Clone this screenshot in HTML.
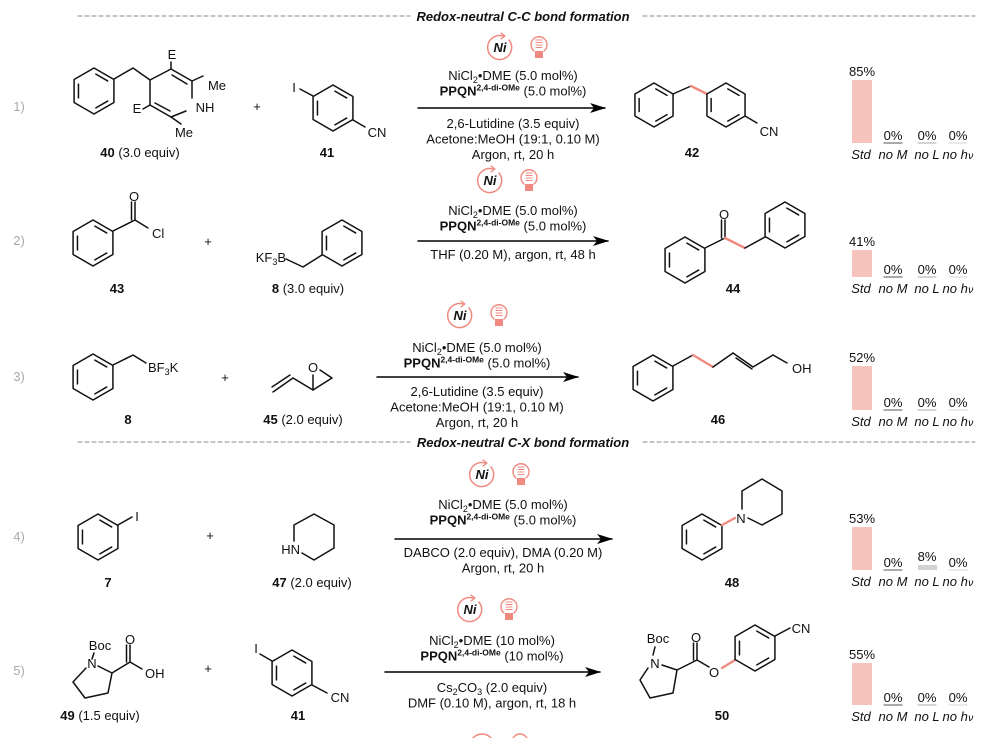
<!DOCTYPE html>
<html><head><meta charset="utf-8"><style>
html,body{margin:0;padding:0;background:#fff}
svg{display:block}
text{font-family:"Liberation Sans",sans-serif;font-size:13px;fill:#111}
</style></head><body>
<svg id="s" width="984" height="738" viewBox="0 0 984 738" xmlns="http://www.w3.org/2000/svg">
<defs><marker id="ah" markerWidth="16" markerHeight="10" refX="15" refY="5" orient="auto" markerUnits="userSpaceOnUse"><path d="M0,0 L16,5 L0,10 L4,5 Z" fill="#000"/></marker></defs>
<g id="g" stroke-linecap="round" stroke-linejoin="round"></g>
</svg>
<script>
var g=document.getElementById('g'),h='';
var PK='#f08a80';
function L(x1,y1,x2,y2,c,w){h+='<line x1="'+x1+'" y1="'+y1+'" x2="'+x2+'" y2="'+y2+'" stroke="'+(c||'#111')+'" stroke-width="'+(w||1.5)+'"/>';}
function P(pts,c,w){h+='<polyline points="'+pts+'" fill="none" stroke="'+(c||'#111')+'" stroke-width="'+(w||1.5)+'"/>';}
function T(x,y,s,o){o=o||{};h+='<text x="'+x+'" y="'+y+'" text-anchor="'+(o.a||'middle')+'"'+(o.b?' font-weight="bold"':'')+(o.i?' font-style="italic"':'')+(o.s?' font-size="'+o.s+'"':'')+(o.c?' style="fill:'+o.c+'"':'')+'>'+s+'</text>';}
function V(cx,cy,r,i){var a=(-90+60*i)*Math.PI/180;return [cx+r*Math.cos(a),cy+r*Math.sin(a)];}
function ring(cx,cy,r,dbl){r=r||23;var p=[];for(var i=0;i<=6;i++){p.push(V(cx,cy,r,i%6).join(','));}P(p.join(' '));
 (dbl||[0,2,4]).forEach(function(i){var a=V(cx,cy,r*0.78,i),b=V(cx,cy,r*0.78,(i+1)%6);L(a[0]+(b[0]-a[0])*0.12,a[1]+(b[1]-a[1])*0.12,a[0]+(b[0]-a[0])*0.88,a[1]+(b[1]-a[1])*0.88);});}
function dash(x1,x2,y){h+='<line x1="'+x1+'" y1="'+y+'" x2="'+x2+'" y2="'+y+'" stroke="#888" stroke-width="1" stroke-dasharray="4,3"/>';}
function arrow(x1,x2,y){h+='<line x1="'+x1+'" y1="'+y+'" x2="'+x2+'" y2="'+y+'" stroke="#000" stroke-width="1.5" marker-end="url(#ah)"/>';}
function icons(x,y){h+='<path d="M '+(x+9)+' '+(y-8)+' A 12 12 0 1 1 '+(x+3)+' '+(y-12)+'" fill="none" stroke="'+PK+'" stroke-width="1.5"/>';
 h+='<path d="M '+(x+1)+' '+(y-15)+' L '+(x+5)+' '+(y-12)+' L '+(x+1)+' '+(y-9)+'" fill="none" stroke="'+PK+'" stroke-width="1.3"/>';
 T(x,y+4,'Ni',{b:1,i:1,s:12});
 var bx=x+39,by=y-4;
 h+='<path d="M '+(bx-5)+' '+(by+7)+' A 8 8 0 1 1 '+(bx+5)+' '+(by+7)+'" fill="none" stroke="'+PK+'" stroke-width="1.4"/>';
 for(var k=0;k<4;k++)L(bx-3,by-4+k*2.5,bx+3,by-4+k*2.5,PK,1);
 h+='<rect x="'+(bx-4)+'" y="'+(by+7)+'" width="8" height="7" fill="'+PK+'"/>';}
function cond(cx,y1,lines){lines.forEach(function(l,i){T(cx,y1+i*15.5,l);});}
var PPQN='<tspan font-weight="bold">PPQN<tspan font-size="8.5" dy="-5">2,4-di-OMe</tspan></tspan><tspan dy="5"> (5.0 mol%)</tspan>';
var PPQN10='<tspan font-weight="bold">PPQN<tspan font-size="8.5" dy="-5">2,4-di-OMe</tspan></tspan><tspan dy="5"> (10 mol%)</tspan>';
var NI5='NiCl<tspan font-size="9" dy="3">2</tspan><tspan dy="-3">•DME (5.0 mol%)</tspan>';
function bars(base,pct,hgt,nol){h+='<rect x="852" y="'+(base-hgt)+'" width="20" height="'+hgt+'" fill="#f7c4bd"/>';T(862,base-hgt-4,pct+'%');
 [[893,'#777'],[927,'#bbb'],[958,'#ddd']].forEach(function(q,i){if(i==1&&nol){h+='<rect x="918" y="'+(base-5)+'" width="19" height="5" fill="#d3d3d3"/>';T(927,base-9,nol+'%');}else{L(q[0]-9,base,q[0]+9,base,q[1],1.2);T(q[0],base-3,'0%');}});
 T(861,base+16,'Std',{i:1});T(893,base+16,'no M',{i:1});T(927,base+16,'no L',{i:1});T(958,base+16,'no h<tspan font-family="DejaVu Sans" font-size="10">ν</tspan>',{i:1});}
function num(x,y,n){T(x,y,n,{c:'#aaa'});}

dash(78,410,16);T(523,21,'Redox-neutral C-C bond formation',{b:1,i:1});dash(643,975,16);
dash(78,410,442);T(523,447,'Redox-neutral C-X bond formation',{b:1,i:1});dash(643,975,442);

// Row 1
num(19,111,'1)');
ring(94,91,23);P('114,79 133,68 150,80');
P('171,69 192,81 192,98');P('186,111 171,117 150,105 150,80 171,69');
L(172,75,187,84);L(155,103,170,111);
L(171,69,171,62);T(172,59,'E');L(192,81,203,76);T(217,90,'Me');T(205,112,'NH');L(150,105,143,109);T(137,113,'E');L(171,117,181,124);T(184,137,'Me');
T(140,157,'<tspan font-weight="bold">40</tspan> (3.0 equiv)');
T(257,111,'+');
ring(333,108,23);L(313,96,300,89);T(294,92,'I');L(353,120,365,127);T(377,137,'CN');T(327,157,'41',{b:1});
icons(500,48);cond(513,80,[NI5,PPQN]);arrow(418,605,108);cond(513,128,['2,6-Lutidine (3.5 equiv)','Acetone:MeOH (19:1, 0.10 M)','Argon, rt, 20 h']);
ring(654,105,22);L(673,94,691,86);L(691,86,707,94,PK,2.4);ring(726,105,22);L(745,116,757,123);T(769,136,'CN');T(692,157,'42',{b:1});
bars(143,85,63);

// Row 2
num(19,245,'2)');
ring(93,243,23);L(113,231,135,220);L(135,220,135,202);L(131.5,220,131.5,202);T(134,201,'O');L(135,220,148,228);T(152,238,'Cl',{a:'start'});
T(117,293,'43',{b:1});T(208,246,'+');
T(286,262,'KF<tspan font-size="9" dy="3">3</tspan><tspan dy="-3">B</tspan>',{a:'end'});P('286,259 303,267 322,255');ring(342,243,23);
T(308,293,'<tspan font-weight="bold">8</tspan> (3.0 equiv)');
icons(490,181);cond(513,215,[NI5,PPQN]);arrow(418,608,241);T(513,259,'THF (0.20 M), argon, rt, 48 h');
ring(685,260,23);L(705,248,725,238);L(725,238,725,220);L(721.5,238,721.5,220);T(724,219,'O');L(725,238,745,248,PK,2.4);L(745,248,765,237);ring(785,225,23);
T(733,293,'44',{b:1});
bars(277,41,27);

// Row 3
num(19,381,'3)');
ring(93,377,23);P('113,365 133,355 146,363');T(148,372,'BF<tspan font-size="9" dy="3">3</tspan><tspan dy="-3">K</tspan>',{a:'start'});
T(128,424,'8',{b:1});T(225,382,'+');
L(273,392,293,378);L(272,387,290,375);L(293,378,313,390);P('313,390 313,375');P('320,370 332,378 313,390');T(313,372,'O');
T(303,424,'<tspan font-weight="bold">45</tspan> (2.0 equiv)');
icons(460,316);cond(477,352,[NI5,PPQN]);arrow(377,578,377);cond(477,396,['2,6-Lutidine (3.5 equiv)','Acetone:MeOH (19:1, 0.10 M)','Argon, rt, 20 h']);
ring(653,378,23);L(673,366,693,355);L(693,355,713,367,PK,2.4);L(713,367,733,353);L(733,353,753,367);L(736,358,752,369);L(753,367,773,355);L(773,355,787,363);T(792,373,'OH',{a:'start'});
T(718,424,'46',{b:1});
bars(410,52,44);

// Row 4
num(19,541,'4)');
ring(98,537,23);L(118,525,132,517);T(137,521,'I');T(108,587,'7',{b:1});T(210,540,'+');
P('294,541 294,525 314,514 334,525 334,548 314,560 302,553');T(300,554,'HN',{a:'end'});
T(312,587,'<tspan font-weight="bold">47</tspan> (2.0 equiv)');
icons(482,475);cond(503,509,[NI5,PPQN]);arrow(395,612,539);cond(503,557,['DABCO (2.0 equiv), DMA (0.20 M)','Argon, rt, 20 h']);
ring(702,537,23);L(722,525,735,518,PK,2.4);T(741,523,'N');P('742,509 742,491 762,479 782,491 782,514 762,525 748,518');
T(732,587,'48',{b:1});
bars(570,53,43,8);

// Row 5
num(19,675,'5)');
T(100,650,'Boc');L(94,653,92,659);T(92,668,'N');P('86,668 73,682 85,698 108,693 112,673 98,666');L(112,673,130,662);L(130,662,130,645);L(126.5,662,126.5,645);T(130,644,'O');L(130,662,142,669);T(145,678,'OH',{a:'start'});
T(100,720,'<tspan font-weight="bold">49</tspan> (1.5 equiv)');T(208,673,'+');
ring(292,673,23);L(272,661,260,654);T(256,653,'I');L(312,685,327,693);T(340,702,'CN');T(298,720,'41',{b:1});
icons(470,610);cond(492,645,['NiCl<tspan font-size="9" dy="3">2</tspan><tspan dy="-3">•DME (10 mol%)</tspan>',PPQN10]);arrow(385,600,672);cond(492,692,['Cs<tspan font-size="9" dy="3">2</tspan><tspan dy="-3">CO</tspan><tspan font-size="9" dy="3">3</tspan><tspan dy="-3"> (2.0 equiv)</tspan>','DMF (0.10 M), argon, rt, 18 h']);
T(658,643,'Boc');L(655,647,653,655);T(655,668,'N');P('648,668 640,680 650,698 673,693 677,670 662,665');L(677,670,697,660);L(697,660,697,643);L(693.5,660,693.5,643);T(696,642,'O');L(697,660,709,667);T(714,677,'O');L(722,668,735,660,PK,2.4);
ring(755,648,23);L(775,636,790,628);T(801,633,'CN');T(722,720,'50',{b:1});
bars(705,55,42);
h+='<circle cx="482" cy="746" r="12" fill="none" stroke="'+PK+'" stroke-width="1.5"/><circle cx="520" cy="742" r="8" fill="none" stroke="'+PK+'" stroke-width="1.4"/>';
g.innerHTML=h;
</script>
</body></html>
